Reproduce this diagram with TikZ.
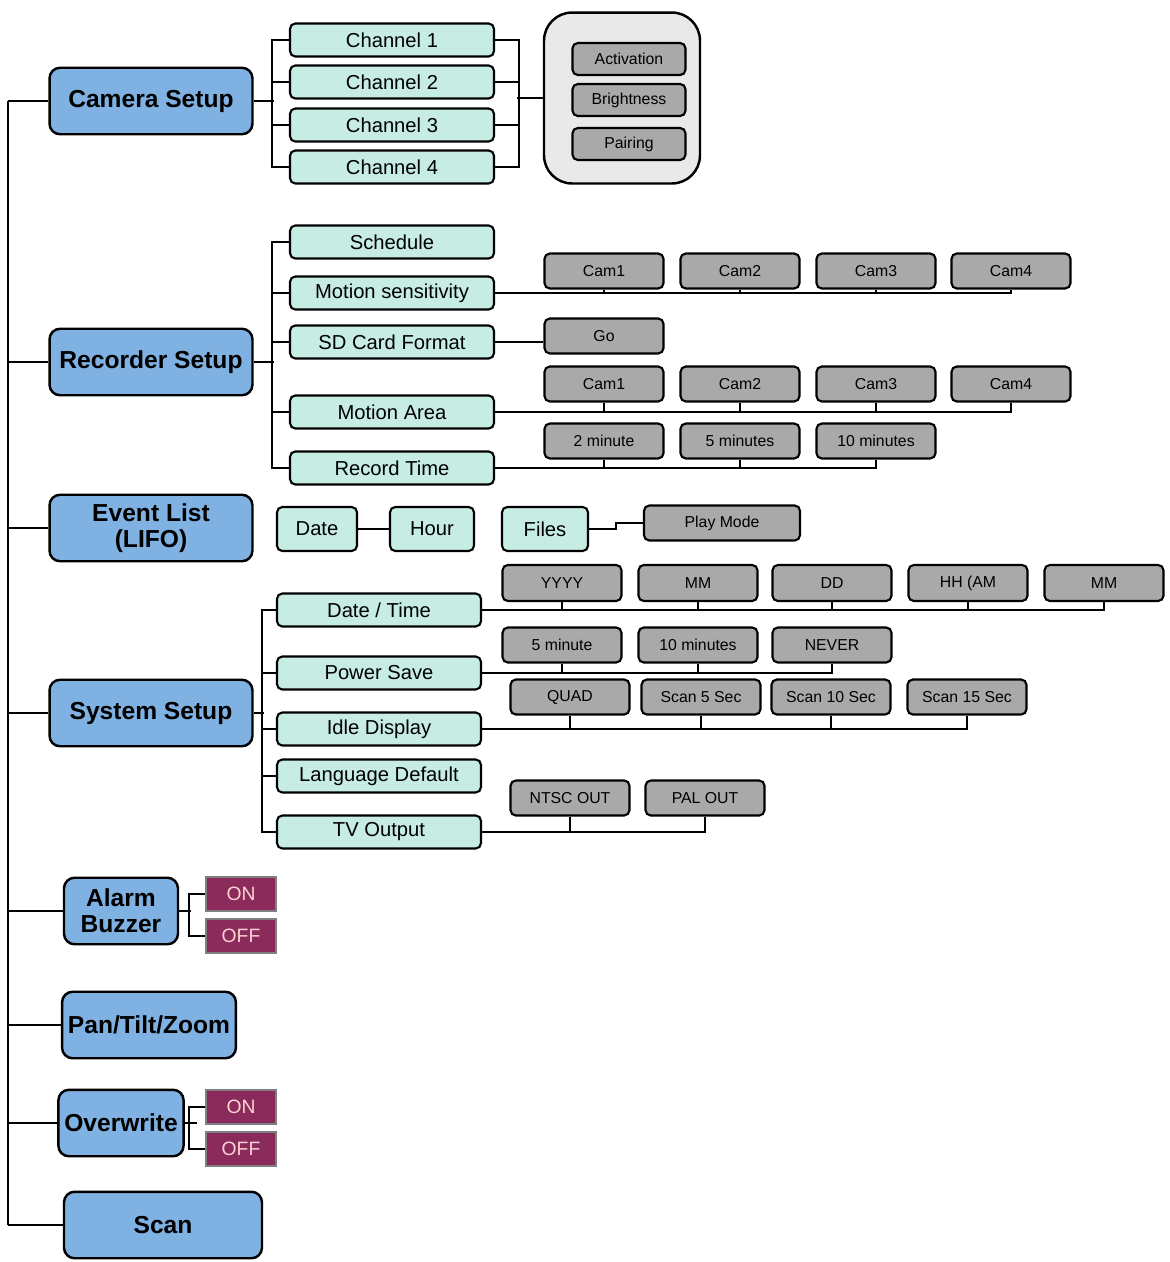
\documentclass[tikz,border=0pt]{standalone}
\usepackage{fontspec}
\setmainfont{Liberation Sans}
\usepackage{tikz}

\definecolor{mainblue}{HTML}{7FB2E2}
\definecolor{subcyan}{HTML}{C6ECE4}
\definecolor{optgray}{HTML}{A9A9A9}
\definecolor{boxgray}{HTML}{E9E9E9}
\definecolor{onoff}{HTML}{8A2B5C}

\begin{document}
\begin{tikzpicture}[x=0.02cm, y=-0.02cm, line width=0.8pt]
    \tikzstyle{menu}=[draw, line width=1.4pt, rounded corners=6pt, fill=mainblue, minimum height=1.33cm, align=center, font=\fontsize{14}{15}\selectfont\bfseries]
    \tikzstyle{sub}=[draw, line width=1.2pt, rounded corners=3pt, fill=subcyan, minimum width=4.08cm, minimum height=0.66cm, inner sep=1pt, font=\fontsize{11.5}{12}\selectfont]
    \tikzstyle{opt}=[draw, line width=1.2pt, rounded corners=3pt, fill=optgray, minimum width=2.38cm, minimum height=0.7cm, inner sep=1pt, font=\fontsize{9}{10}\selectfont]
    \tikzstyle{sw}=[draw=gray, line width=1pt, fill=onoff, text=pink!70, minimum width=1.4cm, minimum height=0.68cm, inner sep=1pt, font=\fontsize{11}{12}\selectfont]

    \useasboundingbox (0,0) rectangle (1170,1262);

    % Hauptmenue
    \node[menu, minimum width=4.06cm] (cam) at (151,101) {Camera Setup};
    \node[menu, minimum width=4.06cm] (rec) at (151,362) {Recorder Setup};
    \node[menu, minimum width=4.06cm] (evt) at (151,528) {Event List\\(LIFO)};
    \node[menu, minimum width=4.06cm] (sys) at (151,713) {System Setup};
    \node[menu, minimum width=2.28cm] (alarm) at (121,911) {Alarm\\Buzzer};
    \node[menu, minimum width=3.4cm] (ptz) at (149,1025) {Pan/Tilt/Zoom};
    \node[menu, minimum width=2.28cm] (ovw) at (121,1123) {Overwrite};
    \node[menu, minimum width=3.96cm] (scan) at (163,1225) {Scan};

    \coordinate (sp) at (8,0);
    \draw (sp |- cam) -- (sp |- scan);
    \foreach \m in {cam,rec,evt,sys,alarm,ptz,ovw,scan}
        \draw (\m.west) -- (\m.west -| sp);

    % Camera Setup
    \foreach \i/\y in {1/40,2/82,3/125,4/167}
        \node[sub] (ch\i) at (392,\y) {Channel \i};
    \draw (cam.east) -- ++(20,0);
    \draw (ch1.west) -- ++(-17,0) |- (ch4.west);
    \foreach \i in {2,3} \draw (ch\i.west) -- ++(-17,0);
    \draw (ch1.east) -- ++(24,0) |- (ch4.east);
    \foreach \i in {2,3} \draw (ch\i.east) -- ++(24,0);
    \node[draw, line width=1.4pt, rounded corners=16pt, fill=boxgray, minimum width=3.12cm, minimum height=3.42cm] (chbox) at (622,98) {};
    \draw[line width=1.6pt] (chbox.west) -- ++(-26,0);
    \node[opt, minimum width=2.26cm, minimum height=0.64cm] (act) at (629,59) {Activation};
    \node[opt, minimum width=2.26cm, minimum height=0.64cm] (bri) at (629,100) {Brightness};
    \node[opt, minimum width=2.26cm, minimum height=0.64cm] (pai) at (629,144) {Pairing};

    % Recorder Setup
    \node[sub] (sched) at (392,242) {Schedule};
    \node[sub] (msens) at (392,293) {Motion sensitivity};
    \node[sub] (sdfmt) at (392,342) {SD Card Format};
    \node[sub] (marea) at (392,412) {Motion Area};
    \node[sub] (rtime) at (392,468) {Record Time};
    \draw (rec.east) -- ++(20,0);
    \draw (sched.west) -- ++(-17,0) |- (rtime.west);
    \foreach \s in {msens,sdfmt,marea} \draw (\s.west) -- ++(-17,0);

    \foreach \i/\x in {1/604,2/740,3/876,4/1011} {
        \node[opt] (ms\i) at (\x,271) {Cam\i};
        \node[opt] (ma\i) at (\x,384) {Cam\i};
    }
    \draw (msens.east) -| (ms4.south);
    \draw (marea.east) -| (ma4.south);
    \foreach \i in {1,2,3} {
        \draw (ms\i.south) -- (ms\i.south |- msens.east);
        \draw (ma\i.south) -- (ma\i.south |- marea.east);
    }
    \node[opt] (go) at (604,336) {Go};
    \draw (sdfmt.east) -- (sdfmt.east -| go.west);
    \node[opt] (rt1) at (604,441) {2 minute};
    \node[opt] (rt2) at (740,441) {5 minutes};
    \node[opt] (rt3) at (876,441) {10 minutes};
    \draw (rtime.east) -| (rt3.south);
    \foreach \i in {1,2} \draw (rt\i.south) -- (rt\i.south |- rtime.east);

    % Event List
    \node[sub, minimum width=1.6cm, minimum height=0.88cm] (edate) at (317,529) {Date};
    \node[sub, minimum width=1.68cm, minimum height=0.88cm] (ehour) at (432,529) {Hour};
    \node[sub, minimum width=1.72cm, minimum height=0.88cm] (efile) at (545,529) {Files};
    \node[opt, minimum width=3.12cm] (play) at (722,523) {Play Mode};
    \draw[line width=1.4pt] (edate) -- (ehour);
    \draw (efile.east) -- ++(27,0) |- (play.west);

    % System Setup
    \node[sub] (dtime) at (379,610) {Date / Time};
    \node[sub] (psave) at (379,673) {Power Save};
    \node[sub] (idle) at (379,729) {Idle Display};
    \node[sub] (lang) at (379,776) {Language Default};
    \node[sub] (tvout) at (379,832) {TV Output};
    \draw (sys.east) -- ++(10,0);
    \draw (dtime.west) -- ++(-14,0) |- (tvout.west);
    \foreach \s in {psave,idle,lang} \draw (\s.west) -- ++(-14,0);

    \foreach \i/\x/\t in {1/562/YYYY,2/698/MM,3/832/DD,4/968/HH (AM/PM),5/1104/MM}
        \node[opt, minimum height=0.72cm] (dt\i) at (\x,583) {\t};
    \draw (dtime.east) -| (dt5.south);
    \foreach \i in {1,...,4} \draw (dt\i.south) -- (dt\i.south |- dtime.east);

    \foreach \i/\x/\t in {1/562/5 minute,2/698/10 minutes,3/832/NEVER}
        \node[opt] (ps\i) at (\x,645) {\t};
    \draw (psave.east) -| (ps3.south);
    \foreach \i in {1,2} \draw (ps\i.south) -- (ps\i.south |- psave.east);

    \foreach \i/\x/\t in {1/570/QUAD,2/701/Scan 5 Sec,3/831/Scan 10 Sec,4/967/Scan 15 Sec}
        \node[opt] (id\i) at (\x,697) {\t};
    \draw (idle.east) -| (id4.south);
    \foreach \i in {1,2,3} \draw (id\i.south) -- (id\i.south |- idle.east);

    \node[opt] (ntsc) at (570,798) {NTSC OUT};
    \node[opt] (pal) at (705,798) {PAL OUT};
    \draw (tvout.east) -| (pal.south);
    \draw (ntsc.south) -- (ntsc.south |- tvout.east);

    % Alarm Buzzer / Overwrite
    \node[sw] (alon) at (241,894) {ON};
    \node[sw] (aloff) at (241,936) {OFF};
    \node[sw] (ovon) at (241,1107) {ON};
    \node[sw] (ovoff) at (241,1149) {OFF};
    \draw (alarm.east) -- ++(12,0);
    \draw (alon.west) -- ++(-16,0) |- (aloff.west);
    \draw (ovw.east) -- ++(12,0);
    \draw (ovon.west) -- ++(-16,0) |- (ovoff.west);

\end{tikzpicture}
\end{document}
